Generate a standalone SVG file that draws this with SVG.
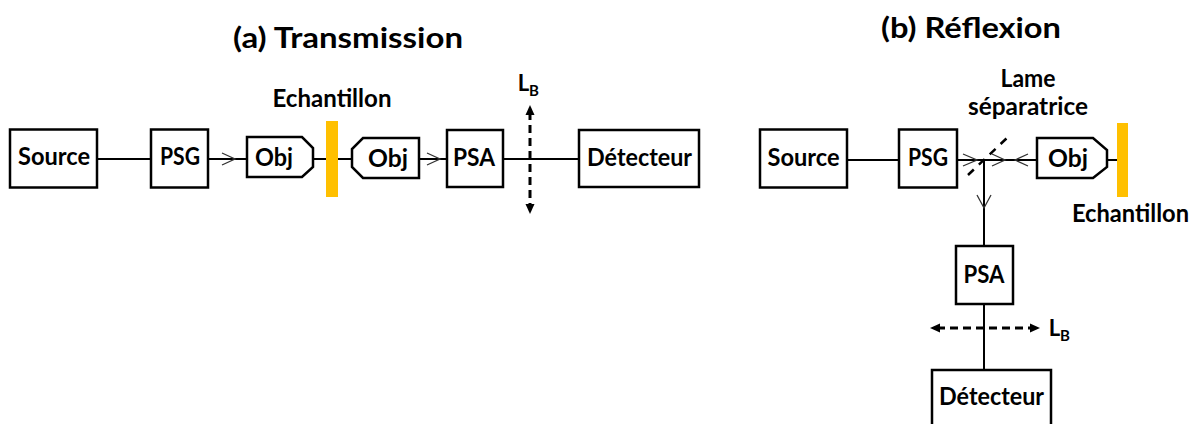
<svg xmlns="http://www.w3.org/2000/svg" width="1197" height="424" viewBox="0 0 1197 424">
<style>
.box{fill:#fff;stroke:#000;stroke-width:2.5}
.ln{fill:none;stroke:#000;stroke-width:2}
.chev{fill:none;stroke:#333;stroke-width:1.3}
.dash{fill:none;stroke:#000;stroke-width:3;stroke-dasharray:8,5}
.bar{fill:#FFC000}
text{font-family:Lato,"Liberation Sans",sans-serif;font-weight:bold;fill:#000;text-anchor:middle}
.lbl{font-size:24px}
.ttl{font-size:28px}
.sub{font-size:15px}
</style>
<defs>
<marker id="ah" markerWidth="10" markerHeight="10" refX="3" refY="5" orient="auto-start-reverse" markerUnits="userSpaceOnUse">
<path d="M0,0.5 L10,5 L0,9.5 Z" fill="#000"/>
</marker>
</defs>

<text class="ttl" x="348" y="48" textLength="230" lengthAdjust="spacingAndGlyphs">(a) Transmission</text>
<text class="ttl" x="971" y="38" textLength="180" lengthAdjust="spacingAndGlyphs">(b) Réflexion</text>

<g id="connectors">
<!-- (a) -->
<line class="ln" x1="97" y1="159" x2="151" y2="159"/>
<line class="ln" x1="208" y1="159" x2="247" y2="159"/>
<polyline class="chev" points="222,153 235,159 222,165"/>
<line class="ln" x1="313" y1="159" x2="352" y2="159"/>
<line class="ln" x1="419" y1="159" x2="447" y2="159"/>
<polyline class="chev" points="427,153 440,159 427,165"/>
<line class="ln" x1="503" y1="159" x2="579" y2="159"/>
<line class="dash" x1="530" y1="112" x2="530" y2="207" marker-start="url(#ah)" marker-end="url(#ah)"/>
<!-- (b) -->
<line class="ln" x1="847" y1="160" x2="899" y2="160"/>
<line class="ln" x1="957" y1="160" x2="1037" y2="160"/>
<polyline class="chev" points="963,154 977,160 963,166"/>
<polyline class="chev" points="992,154 1005,160 992,166"/>
<polyline class="chev" points="1028,154 1015,160 1028,166"/>
<line class="ln" x1="1107" y1="160" x2="1117" y2="160"/>
<line class="ln" x1="984" y1="160" x2="984" y2="246"/>
<polyline class="chev" points="977,195 984,208 991,195"/>
<line class="ln" x1="984" y1="304" x2="984" y2="370"/>
<line class="dash" x1="937" y1="328" x2="1033" y2="328" marker-start="url(#ah)" marker-end="url(#ah)"/>
<line x1="968" y1="175" x2="1008" y2="137" stroke="#000" stroke-width="2.5" stroke-dasharray="8,7"/>
</g>

<g id="a-source"><rect class="box" x="10" y="129.5" width="87" height="58"/><text class="lbl" x="54" y="165" textLength="72" lengthAdjust="spacingAndGlyphs">Source</text></g>
<g id="a-psg"><rect class="box" x="151" y="129.5" width="57" height="58"/><text class="lbl" x="180" y="165" textLength="40" lengthAdjust="spacingAndGlyphs">PSG</text></g>
<g id="a-obj1"><polygon class="box" points="247,137 302,137 313,148 313,167 302,177 247,177"/><text class="lbl" x="274" y="166" textLength="38" lengthAdjust="spacingAndGlyphs">Obj</text></g>
<g id="a-sample"><rect class="bar" x="326" y="121" width="12" height="76"/><text class="lbl" x="332" y="107" textLength="119" lengthAdjust="spacingAndGlyphs">Echantillon</text></g>
<g id="a-obj2"><polygon class="box" points="419,138 363,138 352,149 352,167 363,178 419,178"/><text class="lbl" x="388" y="167" textLength="40" lengthAdjust="spacingAndGlyphs">Obj</text></g>
<g id="a-psa"><rect class="box" x="447" y="130" width="56" height="57"/><text class="lbl" x="474" y="166" textLength="42" lengthAdjust="spacingAndGlyphs">PSA</text></g>
<g id="a-lens"><text x="523.5" y="91" style="font-size:22px">L</text><text class="sub" x="534" y="96">B</text></g>
<g id="a-detecteur"><rect class="box" x="579" y="130" width="120" height="57"/><text class="lbl" x="639.5" y="166" textLength="105" lengthAdjust="spacingAndGlyphs">Détecteur</text></g>

<g id="b-source"><rect class="box" x="760" y="129.5" width="87" height="58"/><text class="lbl" x="803.5" y="166" textLength="72" lengthAdjust="spacingAndGlyphs">Source</text></g>
<g id="b-psg"><rect class="box" x="899" y="129.5" width="58" height="58"/><text class="lbl" x="928" y="166" textLength="40" lengthAdjust="spacingAndGlyphs">PSG</text></g>
<g id="b-splitter"><text class="lbl" x="1028" y="87" textLength="55" lengthAdjust="spacingAndGlyphs">Lame</text><text class="lbl" x="1028" y="115" textLength="120" lengthAdjust="spacingAndGlyphs">séparatrice</text></g>
<g id="b-obj"><polygon class="box" points="1037,138 1093,138 1107,150 1107,167 1093,178 1037,178"/><text class="lbl" x="1068" y="167" textLength="40" lengthAdjust="spacingAndGlyphs">Obj</text></g>
<g id="b-sample"><rect class="bar" x="1117" y="123" width="11" height="74"/><text class="lbl" x="1130.5" y="222" textLength="117" lengthAdjust="spacingAndGlyphs">Echantillon</text></g>
<g id="b-psa"><rect class="box" x="956" y="246" width="57" height="58"/><text class="lbl" x="984" y="283" textLength="41" lengthAdjust="spacingAndGlyphs">PSA</text></g>
<g id="b-lens"><text x="1054.5" y="336" style="font-size:22px">L</text><text class="sub" x="1065" y="341">B</text></g>
<g id="b-detecteur"><rect class="box" x="932" y="370" width="119" height="60"/><text class="lbl" x="991.5" y="405" textLength="105" lengthAdjust="spacingAndGlyphs">Détecteur</text></g>
</svg>
